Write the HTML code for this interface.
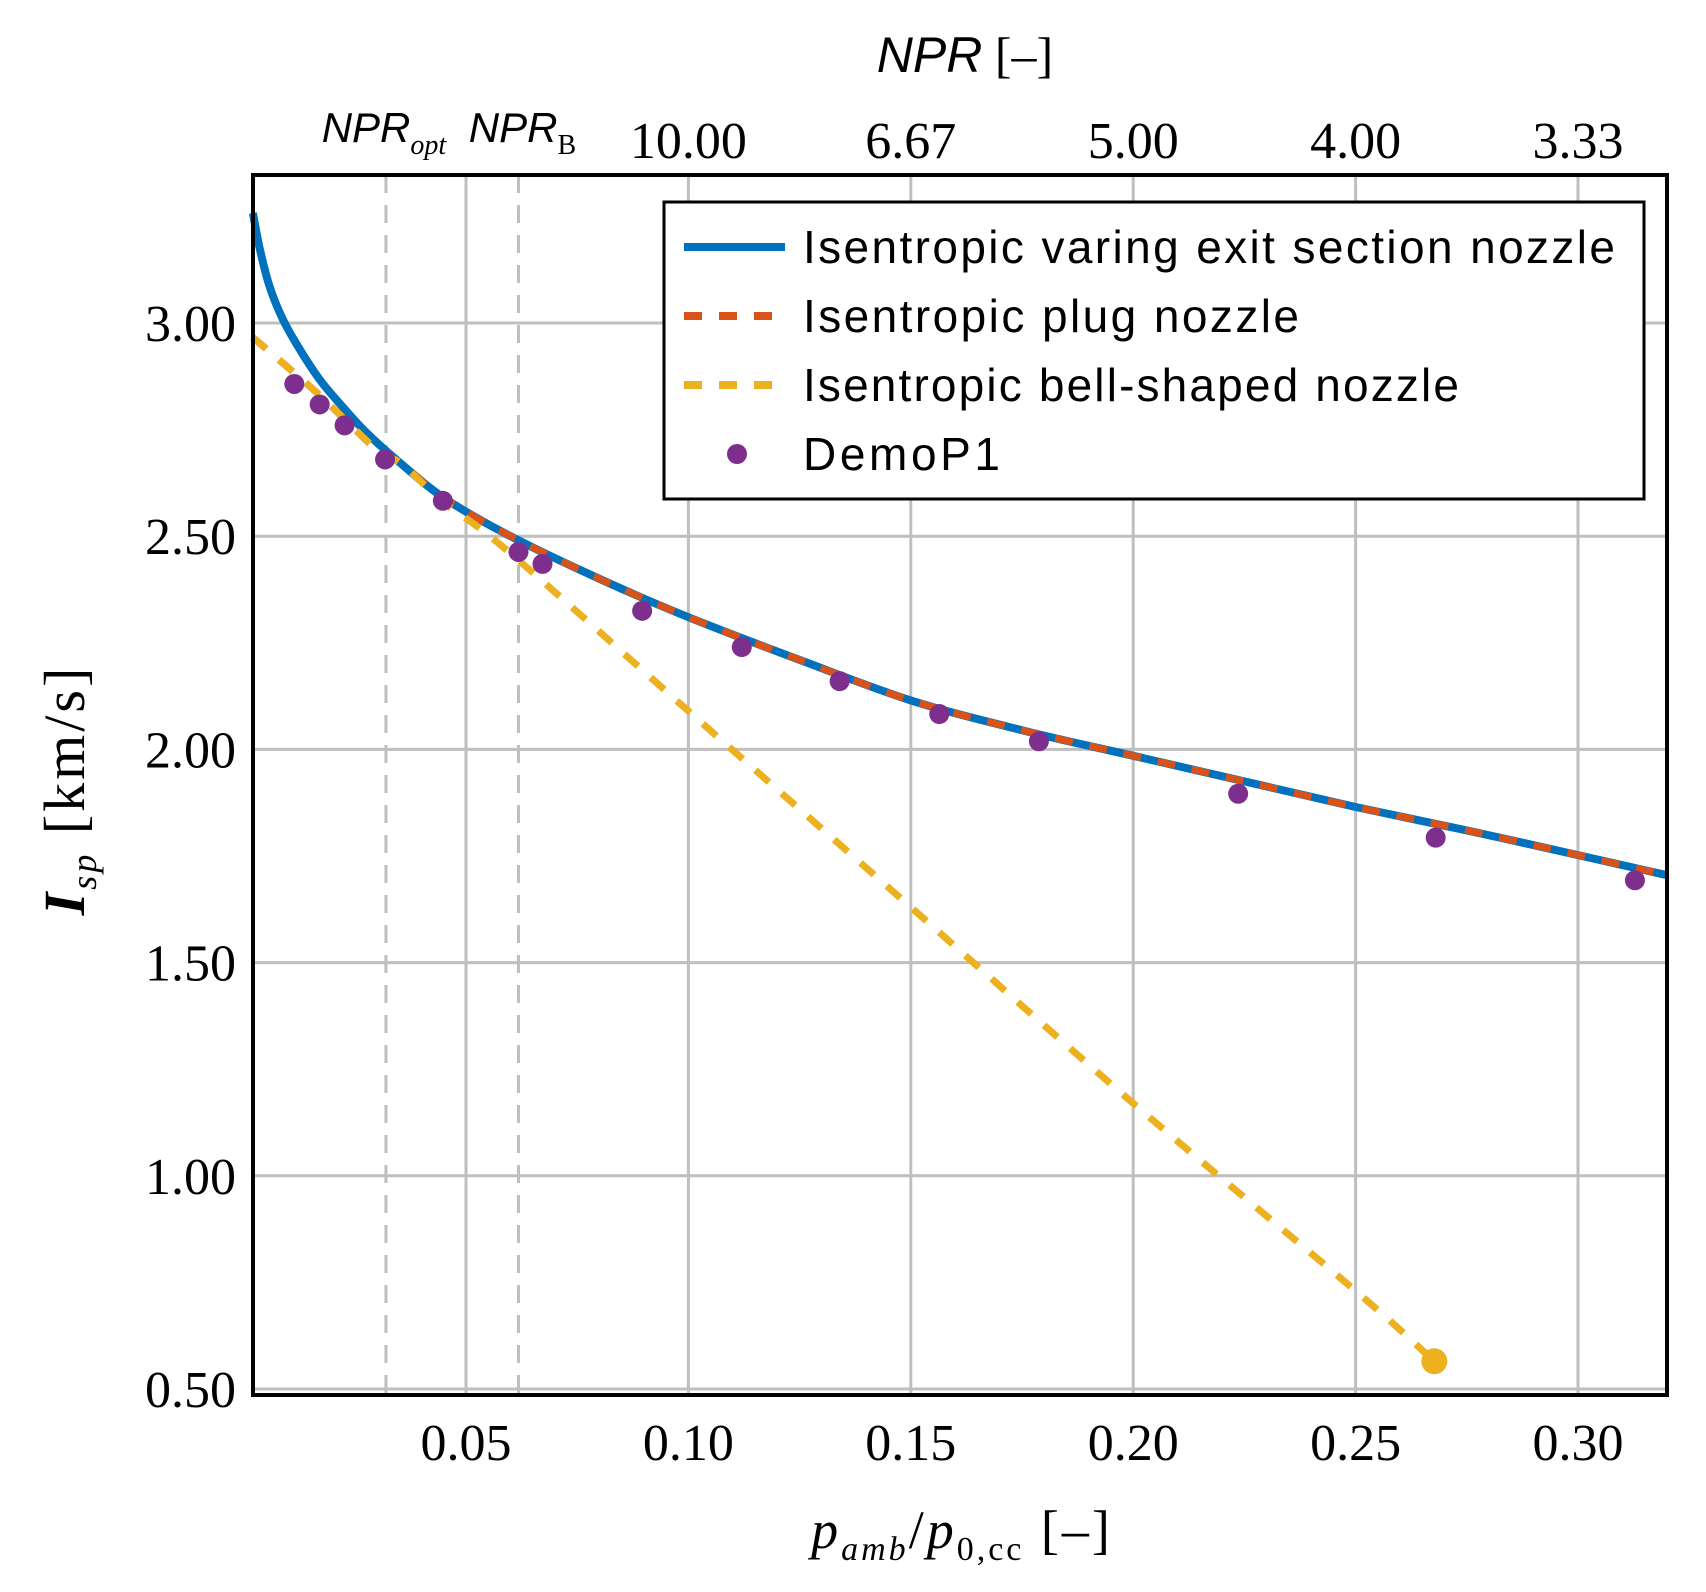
<!DOCTYPE html>
<html><head><meta charset="utf-8"><style>
html,body{margin:0;padding:0;background:#fff}
svg{display:block}
.serif{font-family:"Liberation Serif","DejaVu Serif",serif}
.sans{font-family:"Liberation Sans","DejaVu Sans",sans-serif}
</style></head><body>
<svg id="chart" width="1706" height="1592" viewBox="0 0 1706 1592">
<g id="grid"></g>
<g id="refs"></g>
<g id="series"></g>
<rect x="253" y="175" width="1414" height="1220" fill="none" stroke="#000" stroke-width="4"/>
<g id="ticks"></g>
<text x="965" y="72" class="sans" font-size="50" text-anchor="middle"><tspan font-style="italic">NPR</tspan><tspan class="serif"> [–]</tspan></text>
<text x="962" y="1548" class="serif" font-size="54" text-anchor="middle" letter-spacing="3"><tspan font-style="italic">p</tspan><tspan font-style="italic" font-size="34" dy="12">amb</tspan><tspan dy="-12">/</tspan><tspan font-style="italic">p</tspan><tspan font-size="34" dy="12">0,cc</tspan><tspan dy="-12"> [–]</tspan></text>
<text transform="translate(84,790) rotate(-90)" class="serif" font-size="58" text-anchor="middle" letter-spacing="3"><tspan font-style="italic" font-weight="bold">I</tspan><tspan font-style="italic" font-size="36" dy="12">sp</tspan><tspan dy="-12"> [km/s]</tspan></text>
<g>
<rect x="664" y="202" width="980" height="297" fill="#fff" stroke="#000" stroke-width="3"/>
<line x1="684" y1="247" x2="785" y2="247" stroke="#0072BD" stroke-width="8"/>
<text x="803" y="263" class="sans" font-size="46" textLength="812">Isentropic varing exit section nozzle</text>
<line x1="684" y1="316" x2="785" y2="316" stroke="#D95319" stroke-width="8" stroke-dasharray="18 17"/>
<text x="803" y="332" class="sans" font-size="46" textLength="496">Isentropic plug nozzle</text>
<line x1="684" y1="385" x2="785" y2="385" stroke="#EDB120" stroke-width="8" stroke-dasharray="18 17"/>
<text x="803" y="401" class="sans" font-size="46" textLength="656">Isentropic bell-shaped nozzle</text>
<circle cx="737" cy="454" r="10" fill="#7E2F8E"/>
<text x="803" y="470" class="sans" font-size="46" textLength="197">DemoP1</text>
</g>
</svg>
<script>
const xTicks=[0.05,0.10,0.15,0.20,0.25,0.30];
const xTickLabels=["0.05","0.10","0.15","0.20","0.25","0.30"];
const yTicks=[0.5,1.0,1.5,2.0,2.5,3.0];
const yTickLabels=["0.50","1.00","1.50","2.00","2.50","3.00"];
const nprTicks=[0.10,0.15,0.20,0.25,0.30];
const nprTickLabels=["10.00","6.67","5.00","4.00","3.33"];
const refX=[0.032,0.0618];
const varyX=[0.0021,0.0037,0.0059,0.0089,0.0127,0.0172,0.0223,0.0277,0.0352,0.045,0.06,0.08,0.1,0.125,0.15,0.175,0.2,0.225,0.25,0.275,0.3,0.32];
const varyY=[3.258,3.171,3.084,3.007,2.937,2.866,2.803,2.742,2.672,2.59,2.5,2.4,2.31,2.21,2.115,2.045,1.985,1.925,1.865,1.81,1.752,1.705];
const plugX=[0.002,0.0165,0.03,0.0352,0.045,0.06,0.08,0.1,0.125,0.15,0.175,0.2,0.225,0.25,0.275,0.3,0.32];
const plugY=[2.967,2.836,2.702,2.672,2.59,2.5,2.4,2.31,2.21,2.115,2.045,1.985,1.925,1.865,1.81,1.752,1.705];
const bellX=[0.002,0.0165,0.03,0.0352,0.045,0.06,0.1,0.15,0.2,0.25,0.2677];
const bellY=[2.967,2.836,2.702,2.672,2.58,2.46,2.09,1.63,1.17,0.73,0.565];
const demoX=[0.0114,0.0171,0.0227,0.0318,0.0448,0.0618,0.0672,0.0896,0.112,0.134,0.1564,0.1788,0.2236,0.268,0.3128];
const demoY=[2.857,2.809,2.76,2.68,2.583,2.463,2.435,2.325,2.24,2.16,2.083,2.019,1.896,1.793,1.693];

const NS="http://www.w3.org/2000/svg";
const X=v=>466+(v-0.05)*4448;
const Y=v=>323-(v-3.0)*426.4;
function mk(tag,attrs,parent){const e=document.createElementNS(NS,tag);for(const k in attrs)e.setAttribute(k,attrs[k]);parent.appendChild(e);return e;}
const grid=document.getElementById('grid'),ticks=document.getElementById('ticks'),refs=document.getElementById('refs'),series=document.getElementById('series');
xTicks.forEach((t,i)=>{
 const l=mk('line',{x1:X(t),x2:X(t),y1:175,y2:1395,stroke:'#bfbfbf','stroke-width':3},grid);
 
 
 const tx=mk('text',{x:X(t),y:1460,'font-size':52,'text-anchor':'middle',class:'serif'},ticks);
 tx.textContent=xTickLabels[i];
 
 
});
yTicks.forEach((t,i)=>{
 const l=mk('line',{x1:253,x2:1667,y1:Y(t),y2:Y(t),stroke:'#bfbfbf','stroke-width':3},grid);
 
 
 const tx=mk('text',{x:236,y:Y(t)+18,'font-size':52,'text-anchor':'end',class:'serif'},ticks);
 tx.textContent=yTickLabels[i];
 
 
});
nprTicks.forEach((t,i)=>{
 const tx=mk('text',{x:X(t),y:158,'font-size':52,'text-anchor':'middle',class:'serif'},ticks);
 tx.textContent=nprTickLabels[i];
 
 
});
refX.forEach(r=>{
 const l=mk('line',{x1:X(r),x2:X(r),y1:175,y2:1395,stroke:'#bfbfbf','stroke-width':3,'stroke-dasharray':'18 12'},refs);
 
 
});
{
 const a=mk('text',{x:X(refX[0])-2,y:142,'font-size':42,'text-anchor':'middle',class:'sans'},ticks);
 a.innerHTML='<tspan font-style="italic">NPR</tspan><tspan class="serif" font-style="italic" font-size="28" dy="12">opt</tspan>';
 
 
 const b=mk('text',{x:X(refX[1])+4,y:142,'font-size':42,'text-anchor':'middle',class:'sans'},ticks);
 b.innerHTML='<tspan font-style="italic">NPR</tspan><tspan class="serif" font-size="28" dy="12">B</tspan>';
 
 
}
function path(xs,ys){
 const p=xs.map((x,i)=>[X(x),Y(ys[i])]);
 let d='M'+p[0][0].toFixed(1)+' '+p[0][1].toFixed(1);
 for(let i=0;i<p.length-1;i++){
  const p0=p[Math.max(0,i-1)],p1=p[i],p2=p[i+1],p3=p[Math.min(p.length-1,i+2)];
  const c1=[p1[0]+(p2[0]-p0[0])/6,p1[1]+(p2[1]-p0[1])/6];
  const c2=[p2[0]-(p3[0]-p1[0])/6,p2[1]-(p3[1]-p1[1])/6];
  d+=' C'+c1[0].toFixed(1)+' '+c1[1].toFixed(1)+' '+c2[0].toFixed(1)+' '+c2[1].toFixed(1)+' '+p2[0].toFixed(1)+' '+p2[1].toFixed(1);
 }
 return d;
}
const pv=mk('path',{d:path(varyX,varyY),fill:'none',stroke:'#0072BD','stroke-width':8,'stroke-linejoin':'round'},series);


const pp=mk('path',{d:path(plugX,plugY),fill:'none',stroke:'#D95319','stroke-width':7,'stroke-dasharray':'18 17'},series);


const pb=mk('path',{d:path(bellX,bellY),fill:'none',stroke:'#EDB120','stroke-width':7,'stroke-dasharray':'18 17'},series);


const be=mk('circle',{cx:X(bellX[bellX.length-1]),cy:Y(bellY[bellY.length-1]),r:13,fill:'#EDB120'},series);


demoX.forEach((x,i)=>{
 const c=mk('circle',{cx:X(x),cy:Y(demoY[i]),r:10,fill:'#7E2F8E'},series);
 
 
});
</script>
</body></html>
